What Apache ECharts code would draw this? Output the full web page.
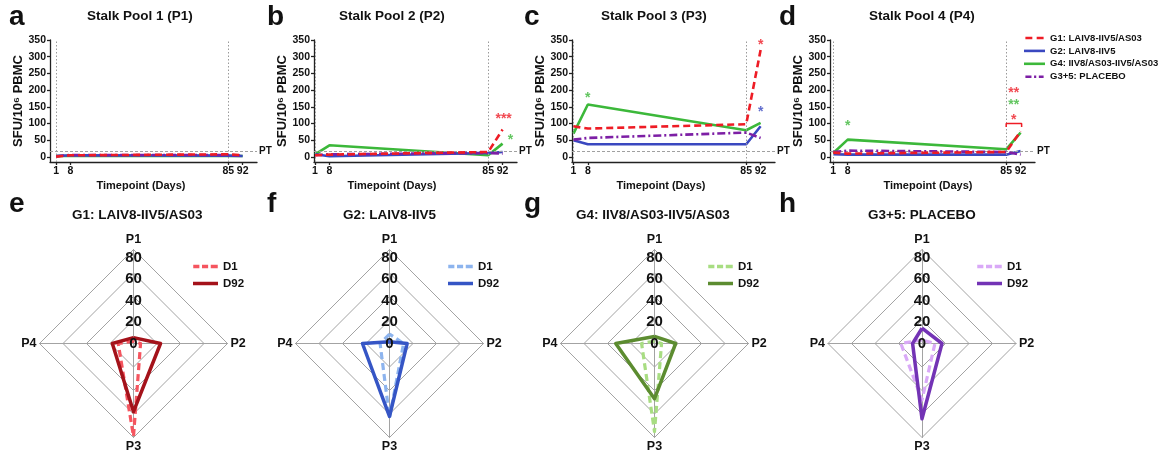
<!DOCTYPE html>
<html><head><meta charset="utf-8">
<script src="https://cdn.jsdelivr.net/npm/echarts@6/dist/echarts.min.js"></script>
<style>html,body{margin:0;padding:0;background:#fff}#c{width:1174px;height:456px}</style>
</head><body><div id="c"></div>
<script>
// ---------------- DATA ----------------
const days = [1, 8, 85, 92];
const xTicks = [1, 8, 85, 92];
const yTicks = [0, 50, 100, 150, 200, 250, 300, 350];
const groupNames = ['G1: LAIV8-IIV5/AS03', 'G2: LAIV8-IIV5', 'G4: IIV8/AS03-IIV5/AS03', 'G3+5: PLACEBO'];
const poolTitles = ['Stalk Pool 1 (P1)', 'Stalk Pool 2 (P2)', 'Stalk Pool 3 (P3)', 'Stalk Pool 4 (P4)'];
const ptLevel = 18;

// Stalk pool 1
const p1_g1 = [1, 5, 8, 5];
const p1_g2 = [3, 5, 4, 3];
const p1_g4 = [3, 3, 3, 3];
const p1_g35 = [2, 6, 6, 4];
// Stalk pool 2
const p2_g1 = [5, 7, 15, 82];
const p2_g2 = [8, 2, 12, 15];
const p2_g4 = [8, 35, 5, 40];
const p2_g35 = [5, 8, 12, 10];
// Stalk pool 3
const p3_g1 = [92, 85, 98, 320];
const p3_g2 = [50, 38, 38, 92];
const p3_g4 = [70, 157, 80, 102];
const p3_g35 = [52, 57, 73, 57];
// Stalk pool 4
const p4_g1 = [13, 10, 15, 77];
const p4_g2 = [8, 7, 7, 18];
const p4_g4 = [12, 52, 23, 73];
const p4_g35 = [15, 19, 15, 7];

// significance marks: [day, SFU, text, group index]
const stars_a = [];
const stars_b = [[92.5, 122, '***', 0], [95.8, 60, '*', 2]];
const stars_c = [[8, 185, '*', 2], [92, 345, '*', 0], [92, 142, '*', 1]];
const stars_d = [[8, 100, '*', 2], [88.7, 200, '**', 0], [88.7, 165, '**', 2], [88.7, 120, '*', 0]];
const bracket_d = [[85, 90], [85, 100], [92.5, 100], [92.5, 90]];

// Radar
const radarAxes = ['P1', 'P2', 'P3', 'P4'];
const radarMax = 80;
const radarTitles = ['G1: LAIV8-IIV5/AS03', 'G2: LAIV8-IIV5', 'G4: IIV8/AS03-IIV5/AS03', 'G3+5: PLACEBO'];
const radarKeys = ['G1', 'G2', 'G4', 'G35'];
const dayNames = ['D1', 'D92'];
const g1_d1 = [2, 6, 79, 13];
const g1_d92 = [5, 23, 58, 18];
const g2_d1 = [8, 12, 63, 8];
const g2_d92 = [1.5, 15, 62, 23];
const g4_d1 = [2, 6, 75, 11];
const g4_d92 = [6, 18, 47, 33];
const g35_d1 = [3, 11, 48, 18];
const g35_d92 = [13, 17, 64, 8];

// ---------------- STYLE / LAYOUT ----------------
const FONT = "'Liberation Sans', Arial, Helvetica, sans-serif";
const INK = '#111';
const lineColors = ['#ee1c25', '#3a48c0', '#3cb83a', '#7d1fa5'];
const lineTypes = [[7, 4], 'solid', 'solid', [8, 3, 2, 3]];
const legendIcons = [
  'path://M0 0h8v3h-8zM13 0h8v3h-8z',
  'rect',
  'rect',
  'path://M0 0h7v3h-7zM10 0h2.5v3h-2.5zM15.5 0h5.5v3h-5.5z'
];
const drawOrder = [2, 1, 3, 0];
const pools = [
  [p1_g1, p1_g2, p1_g4, p1_g35],
  [p2_g1, p2_g2, p2_g4, p2_g35],
  [p3_g1, p3_g2, p3_g4, p3_g35],
  [p4_g1, p4_g2, p4_g4, p4_g35]
];
const starsAll = [stars_a, stars_b, stars_c, stars_d];
const gridLefts = [50, 314, 572, 830];
const gridWidths = [207, 203, 203, 205];
const xMins = [-2, 0.5, 0.3, -0.6];
const xNameShift = [25, 47, 25, 9];
const titleLefts = [87, 339, 601, 869];
const letterLefts = [9, 267, 524, 779];

const radarCenters = [133.5, 389.5, 654.5, 922];
const radarTitleLefts = [72, 343, 576, 868];
const radarLegendLefts = [193, 448, 708, 977];
const radarColors = [['#f5555f', '#a4121a'], ['#8db4ee', '#3555c5'], ['#a8dd82', '#5c8c30'], ['#d9a9f7', '#7333b5']];
const radarData = [[g1_d1, g1_d92], [g2_d1, g2_d92], [g4_d1, g4_d92], [g35_d1, g35_d92]];
const radarOrder = [0, 3, 2, 1]; // P1 top, then counter-clockwise P4, P3, P2
const dashIcon = 'path://M0 0h7v4h-7zM10 0h7v4h-7zM20 0h8v4h-8z';

// ---------------- BUILD ----------------
const grid = [], xAxis = [], yAxis = [], series = [], title = [];
const txt = (size) => ({ color: INK, fontWeight: 'bold', fontSize: size, fontFamily: FONT });

for (let i = 0; i < 4; i++) {
  grid.push({ left: gridLefts[i], top: 40, width: gridWidths[i], height: 122 });
  xAxis.push({
    type: 'value', gridIndex: i, min: xMins[i], max: 99,
    axisLine: { show: true, onZero: false, lineStyle: { color: '#222', width: 1.3 } },
    axisTick: { show: true, length: 3, customValues: xTicks, lineStyle: { color: '#222', width: 1.3 } },
    axisLabel: Object.assign({ customValues: xTicks, margin: 4 }, txt(10.5)),
    splitLine: { show: false },
    name: 'Timepoint (Days)', nameLocation: 'middle', nameGap: 18,
    nameTextStyle: Object.assign({ padding: [0, xNameShift[i], 0, 0] }, txt(11))
  });
  yAxis.push({
    type: 'value', gridIndex: i, min: -15, max: 350,
    axisLine: { show: true, onZero: false, lineStyle: { color: '#222', width: 1.3 } },
    axisTick: { show: true, length: 3, customValues: yTicks, lineStyle: { color: '#222', width: 1.3 } },
    axisLabel: Object.assign({ customValues: yTicks, margin: 4 }, txt(10.5)),
    splitLine: { show: false },
    name: 'SFU/10\u2076 PBMC', nameLocation: 'middle', nameGap: 25,
    nameTextStyle: txt(13)
  });
  title.push({ text: poolTitles[i], left: titleLefts[i], top: 9, padding: 0, textStyle: txt(13.5) });
  title.push({ text: 'abcd'[i], left: letterLefts[i], top: 3, padding: 0, textStyle: txt(28) });

  drawOrder.forEach((g, n) => {
    const s = {
      type: 'line', name: groupNames[g], xAxisIndex: i, yAxisIndex: i,
      data: days.map((d, k) => [d, pools[i][g][k]]),
      symbol: 'none', z: 3 + n,
      lineStyle: { color: lineColors[g], width: 2.6, type: lineTypes[g] },
      itemStyle: { color: lineColors[g] }
    };
    if (n === 0) {
      s.markLine = {
        silent: true, symbol: ['none', 'none'], animation: false,
        label: { show: false },
        lineStyle: { color: '#9a9a9a', width: 1, type: [1.5, 2] },
        data: [
          { xAxis: 1 }, { xAxis: 85 },
          { yAxis: ptLevel, lineStyle: { type: [3, 2], color: '#a0a0a0' },
            label: Object.assign({ show: true, position: 'end', formatter: 'PT', distance: 2 }, txt(10)) }
        ]
      };
    }
    series.push(s);
  });

  if (starsAll[i].length) {
    series.push({
      type: 'scatter', xAxisIndex: i, yAxisIndex: i, symbolSize: 0, z: 10, silent: true,
      data: starsAll[i].map(s => ({
        value: [s[0], s[1]],
        label: { show: true, position: 'inside', formatter: s[2], color: lineColors[s[3]],
                 fontSize: 14, fontWeight: 'bold', fontFamily: FONT, offset: [0, 3] }
      }))
    });
  }
}
series.push({
  type: 'line', xAxisIndex: 3, yAxisIndex: 3, data: bracket_d, symbol: 'none', z: 10, silent: true,
  lineStyle: { color: lineColors[0], width: 1.5 }
});

// Radars
const radar = [];
const legend = [{
  data: groupNames.map((n, g) => ({ name: n, icon: legendIcons[g], itemStyle: { color: lineColors[g] } })),
  left: 1024, top: 32.5, padding: 0, orient: 'vertical', itemWidth: 21, itemHeight: 2.6, itemGap: 1.9,
  textStyle: Object.assign({ lineHeight: 11 }, txt(9.5)), selectedMode: false
}];
for (let r = 0; r < 4; r++) {
  radar.push({
    center: [radarCenters[r], 343.5], radius: 94, startAngle: 90, shape: 'polygon', splitNumber: 4,
    indicator: radarOrder.map(k => ({ name: radarAxes[k], min: 0, max: radarMax })),
    axisName: txt(12.5), nameGap: 3,
    axisLine: { lineStyle: { color: '#a3a3a3', width: 1 } },
    splitLine: { lineStyle: { color: '#a3a3a3', width: 1 } },
    splitArea: { show: false },
    axisTick: { show: false },
    axisLabel: { show: false }
  });
  title.push({ text: radarTitles[r], left: radarTitleLefts[r], top: 208, padding: 0, textStyle: txt(13.5) });
  title.push({ text: 'efgh'[r], left: letterLefts[r], top: 190, padding: 0, textStyle: txt(28) });
  const legItems = [];
  [0, 1].forEach(dd => {
    const nm = radarKeys[r] + '|' + dayNames[dd];
    const col = radarColors[r][dd];
    series.push({
      type: 'radar', radarIndex: r, name: nm, symbol: 'none', z: dd === 0 ? 4 : 5,
      data: [{ name: nm, value: radarOrder.map(k => radarData[r][dd][k]) }],
      lineStyle: { color: col, width: dd === 0 ? 3.2 : 3.5, type: dd === 0 ? [7, 4] : 'solid' },
      itemStyle: { color: col },
      areaStyle: { opacity: 0 }
    });
    legItems.push({ name: nm, icon: dd === 0 ? dashIcon : 'rect', itemStyle: { color: col } });
  });
  legend.push({
    data: legItems, left: radarLegendLefts[r], top: 260, padding: 0, orient: 'vertical',
    itemWidth: 25, itemHeight: 3.5, itemGap: 4, selectedMode: false,
    formatter: n => n.split('|')[1], textStyle: Object.assign({ lineHeight: 13 }, txt(11.5))
  });
}
// label-only radars for the value scale along P1 (placed as in the reference, slightly inside the rings)
for (let r = 0; r < 4; r++) {
  radar.push({
    center: [radarCenters[r], 343.5], radius: 86, startAngle: 90, shape: 'polygon', splitNumber: 4,
    indicator: radarOrder.map((k, j) => {
      const ind = { name: radarAxes[k], min: 0, max: radarMax };
      if (j === 0) ind.axisLabel = Object.assign({ show: true, margin: 0, align: 'center', verticalAlign: 'middle', showMinLabel: true, showMaxLabel: true }, txt(15));
      return ind;
    }),
    axisName: { show: false },
    axisLine: { show: false },
    splitLine: { show: false },
    splitArea: { show: false },
    axisTick: { show: false },
    axisLabel: { show: false },
    z: 6
  });
}

const chart = echarts.init(document.getElementById('c'));
chart.setOption({
  animation: false, backgroundColor: '#fff',
  title, grid, xAxis, yAxis, radar, legend, series
});
</script></body></html>
